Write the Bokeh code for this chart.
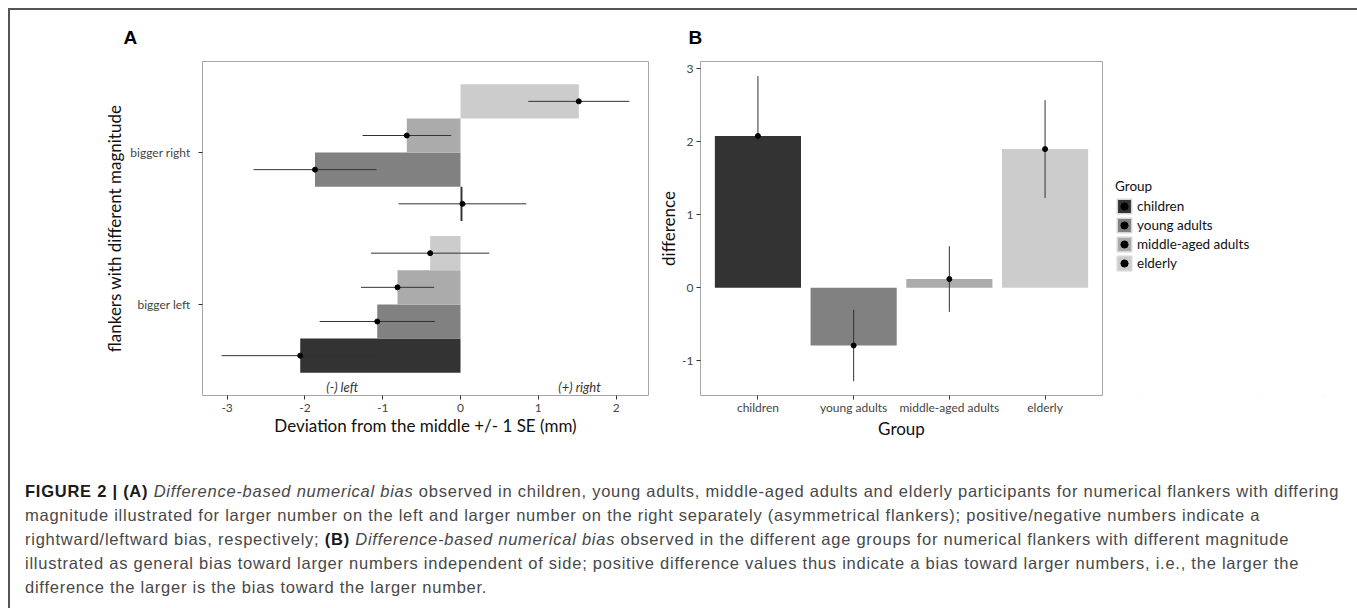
from bokeh.plotting import figure
from bokeh.models import (ColumnDataSource, FactorRange, Range1d, FixedTicker,
                          Legend, LegendItem, Title, Div)
from bokeh.layouts import row, column
from bokeh.transform import dodge
from bokeh.core.properties import value
from bokeh.embed import file_html
from bokeh.resources import INLINE
import math

# ---------------- data ----------------
groups = ["children", "young adults", "middle-aged adults", "elderly"]
colors = ["#333333", "#818181", "#ababab", "#cccccc"]

# Panel A: deviation from the middle (mm), mean and SE per side
sides = ["bigger left", "bigger right"]
a_left_mean = [-2.06, -1.07, -0.81, -0.39]
a_left_se = [1.01, 0.74, 0.47, 0.76]
a_right_mean = [0.025, -1.87, -0.69, 1.52]
a_right_se = [0.82, 0.79, 0.57, 0.65]
a_ticks = [-3, -2, -1, 0, 1, 2]
annot_text = ["(-) left", "(+) right"]
annot_x = [-1.52, 1.53]

# Panel B: difference per group, mean and SE
b_mean = [2.08, -0.79, 0.12, 1.90]
b_se = [0.82, 0.49, 0.45, 0.67]
b_ticks = [-1, 0, 1, 2, 3]

FONT = "Lato"
TICK_COL = "#444444"


def style(p):
    p.xgrid.visible = False
    p.ygrid.visible = False
    p.outline_line_color = "#a6a6a6"
    p.outline_line_width = 1
    p.background_fill_color = "white"
    p.border_fill_color = "white"
    for ax in p.axis:
        ax.axis_line_color = None
        ax.major_tick_out = 4
        ax.major_tick_in = 0
        ax.minor_tick_out = 0
        ax.minor_tick_in = 0
        ax.major_tick_line_color = "#333333"
        ax.major_label_text_font = FONT
        ax.major_label_text_font_size = "12px"
        ax.major_label_text_color = TICK_COL
        ax.axis_label_text_font = FONT
        ax.axis_label_text_font_size = "17px"
        ax.axis_label_text_font_style = "normal"
        ax.axis_label_text_color = "#111111"


def hyphen_labels(ticks):
    return {t: str(t) for t in ticks}


# ---------------- panel A ----------------
pa = figure(width=645, height=434,
            y_range=FactorRange(factors=sides, range_padding=0.1,
                                range_padding_units="absolute"),
            x_range=Range1d(-3.316, 2.416),
            output_backend="svg", toolbar_location=None,
            min_border_left=192, min_border_right=7,
            min_border_top=50, min_border_bottom=49)
pa.add_layout(Title(text="A", align="left", offset=-79,
                    text_font="Liberation Sans", text_font_size="19px",
                    text_font_style="bold", text_color="black", standoff=28), "above")

bar_h = 0.9 / len(groups)
for i, g in enumerate(groups):
    off = (i - (len(groups) - 1) / 2) * bar_h
    means = [a_left_mean[i], a_right_mean[i]]
    ses = [a_left_se[i], a_right_se[i]]
    src = ColumnDataSource(dict(
        side=sides,
        mean=means,
        lo=[m - s for m, s in zip(means, ses)],
        hi=[m + s for m, s in zip(means, ses)],
    ))
    yy = dodge("side", off, range=pa.y_range)
    pa.hbar(y=yy, left=0, right="mean", height=bar_h, source=src,
            fill_color=colors[i], line_color=None)
    pa.segment(x0="lo", y0=yy, x1="hi", y1=yy, source=src,
               line_color="#333333", line_width=1)
    pa.scatter(x="mean", y=yy, source=src, size=5, marker="circle",
               fill_color="black", line_color="black")

pa.text(x=annot_x, y=[-0.047, -0.047], text=annot_text,
        text_font=value(FONT), text_font_size="13px", text_font_style="italic",
        text_color="#333333", text_align="center", text_baseline="middle")

pa.xaxis.axis_label = "Deviation from the middle +/- 1 SE (mm)"
pa.yaxis.axis_label = "flankers with different magnitude"
style(pa)
pa.xaxis.ticker = FixedTicker(ticks=a_ticks)
pa.xaxis.major_label_overrides = hyphen_labels(a_ticks)
pa.yaxis.major_label_standoff = 8
pa.yaxis.axis_label_standoff = 2
pa.xaxis.major_label_standoff = 4
pa.xaxis.axis_label_standoff = 0

# ---------------- panel B ----------------
pb = figure(width=452, height=434,
            x_range=FactorRange(factors=groups, range_padding=0.1,
                                range_padding_units="absolute"),
            y_range=Range1d(-1.475, 3.10),
            output_backend="svg", toolbar_location=None,
            min_border_left=42, min_border_right=5,
            min_border_top=50, min_border_bottom=49)
pb.add_layout(Title(text="B", align="left", offset=-12,
                    text_font="Liberation Sans", text_font_size="19px",
                    text_font_style="bold", text_color="black", standoff=28), "above")

bsrc = ColumnDataSource(dict(
    group=groups,
    mean=b_mean,
    lo=[m - s for m, s in zip(b_mean, b_se)],
    hi=[m + s for m, s in zip(b_mean, b_se)],
    color=colors,
))
pb.vbar(x="group", top="mean", bottom=0, width=0.9, source=bsrc,
        fill_color="color", line_color=None)
pb.segment(x0="group", y0="lo", x1="group", y1="hi", source=bsrc,
           line_color="#333333", line_width=1)
pb.scatter(x="group", y="mean", source=bsrc, size=5, marker="circle",
           fill_color="black", line_color="black")

pb.xaxis.axis_label = "Group"
pb.yaxis.axis_label = "difference"
style(pb)
pb.yaxis.ticker = FixedTicker(ticks=b_ticks)
pb.yaxis.major_label_overrides = hyphen_labels(b_ticks)
pb.yaxis.major_label_standoff = 3
pb.yaxis.axis_label_standoff = 0
pb.xaxis.major_label_standoff = 0
pb.xaxis.axis_label_standoff = 0

# ---------------- legend (own canvas to the right of panel B) ----------------
# same group data; the value range of this canvas is chosen so that only
# the legend keys show
pl = figure(width=247, height=434,
            x_range=FactorRange(factors=groups),
            y_range=Range1d(10, 11),
            output_backend="svg", toolbar_location=None,
            min_border_left=0, min_border_right=0,
            min_border_top=0, min_border_bottom=0)
pl.axis.visible = False
pl.grid.visible = False
pl.outline_line_color = None
pl.background_fill_color = "white"
pl.border_fill_color = "white"
lbars = pl.vbar(x="group", top="mean", bottom=0, width=0, source=bsrc,
                fill_color="color", line_color="#d6d6d6", line_width=1.5)
lerr = pl.scatter(x="group", y="mean", source=bsrc, size=17, marker="dash",
                  angle=math.pi / 2, line_color="#333333", line_width=1)
lpts = pl.scatter(x="group", y="mean", source=bsrc, size=5, marker="circle",
                  fill_color="black", line_color="black")

legend = Legend(
    items=[LegendItem(label=g, renderers=[lbars, lerr, lpts], index=i)
           for i, g in enumerate(groups)],
    title="Group", location=(8, 123), orientation="vertical",
    border_line_color=None, background_fill_alpha=0,
    label_text_font=FONT, label_text_font_size="13.5px", label_text_color="#111111",
    title_text_font=FONT, title_text_font_size="13.5px", title_text_font_style="normal",
    title_text_color="#111111", title_standoff=3,
    glyph_width=18, glyph_height=18, spacing=1, label_standoff=4,
    label_height=18, margin=0, padding=4,
)
pl.add_layout(legend)

# ---------------- caption ----------------
caption_html = (
    '<div style="font-family: \'Liberation Sans\', Arial, sans-serif; font-size: 16.5px; '
    'letter-spacing: 0.75px; line-height: 24px; color: #484848; white-space: nowrap; '
    'padding-left: 10px; padding-top: 30px;">'
    '<b style="color:#1a1a1a">FIGURE 2 | (A)</b> <i>Difference-based numerical bias</i> observed in children, '
    'young adults, middle-aged adults and elderly participants for numerical flankers with differing<br>'
    'magnitude illustrated for larger number on the left and larger number on the right separately '
    '(asymmetrical flankers); positive/negative numbers indicate a<br>'
    'rightward/leftward bias, respectively; <b style="color:#1a1a1a">(B)</b> '
    '<i>Difference-based numerical bias</i> observed in the different age groups for numerical '
    'flankers with different magnitude<br>'
    'illustrated as general bias toward larger numbers independent of side; positive difference '
    'values thus indicate a bias toward larger numbers, i.e., the larger the<br>'
    'difference the larger is the bias toward the larger number.'
    '</div>'
)
cap = Div(text=caption_html, width=1344, height=160)

layout = column(row(pa, pb, pl), cap,
                styles={"margin-left": "8px", "margin-top": "8px",
                        "border-top": "2px solid #555555",
                        "border-left": "2px solid #555555",
                        "border-right": "2px solid #666666"})

open("out.html", "w").write(file_html(layout, INLINE))
